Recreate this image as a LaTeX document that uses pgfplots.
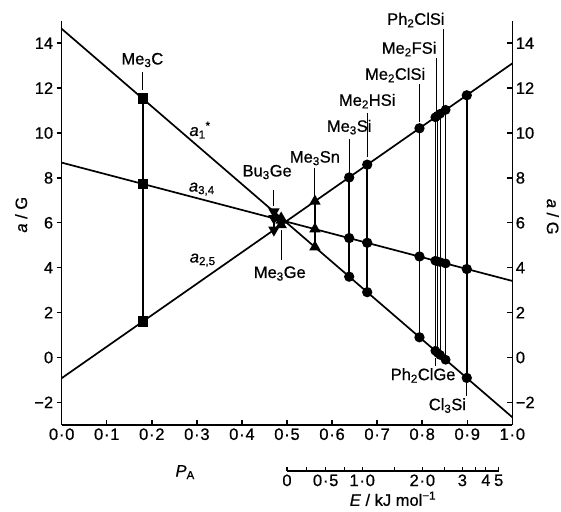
\documentclass[border=0pt]{standalone}
\usepackage{fontspec}
\setmainfont{Liberation Sans}[FakeBold=0.7]
\usepackage{pgfplots}
\pgfplotsset{compat=1.18}

\newcommand{\lbl}{\fontsize{16.5}{18}\selectfont}
\newcommand{\sub}[1]{\textsubscript{#1}}
\newcommand{\pd}{\kern0.8pt·\kern0.8pt}

\pgfplotsset{
  frame/.style={
    at={(0,0)}, anchor=south west, scale only axis,
    width=450.6pt, height=404.1pt,
    xmin=0, xmax=1, ymin=-3, ymax=15,
    axis line style={line width=1.6pt},
    every tick/.style={line width=1.4pt, black},
    major tick length=5pt,
    ticklabel style={font=\lbl},
    ytick={-2,0,2,4,6,8,10,12,14},
    yticklabels={−2,0,2,4,6,8,10,12,14},
    clip=false,
  },
  comp/.style={black, line width=1.6pt, mark=*, mark size=4.3pt, mark options={solid}},
}

\begin{document}
\begin{tikzpicture}
% left y axis and the data
\begin{axis}[frame,
  axis x line=none, axis y line*=left, tick align=outside,
]
% the three lines
\addplot[black, line width=1.7pt] coordinates {(0,14.64) (1,-2.66)};
\addplot[black, line width=1.7pt] coordinates {(0,8.68) (1,3.41)};
\addplot[black, line width=1.7pt] coordinates {(0,-0.92) (1,13.10)};

% compounds: (P_A, a1) (P_A, a34) (P_A, a25)
\addplot[comp, mark=square*, mark size=4.5pt] coordinates {(0.180,11.53) (0.180,7.73) (0.180,1.60)}; % Me3C
\addplot[comp, mark=triangle*, mark size=5pt, mark options={rotate=180}] coordinates {(0.471,6.49) (0.471,6.20) (0.471,5.68)}; % Bu3Ge
\addplot[comp, mark=triangle*, mark size=5pt] coordinates {(0.487,6.21) (0.487,6.11) (0.487,5.91)}; % Me3Ge
\addplot[comp, mark=triangle*, mark size=5pt] coordinates {(0.562,4.92) (0.562,5.72) (0.562,6.96)}; % Me3Sn
\addplot[comp] coordinates {(0.638,3.60) (0.638,5.32) (0.638,8.02)}; % Me3Si
\addplot[comp] coordinates {(0.678,2.91) (0.678,5.11) (0.678,8.59)}; % Me2HSi
\addplot[comp] coordinates {(0.794,0.90) (0.794,4.50) (0.794,10.21)}; % Me2ClSi
\addplot[comp, line width=1pt] coordinates {(0.829,0.30) (0.829,4.31) (0.829,10.70)}; % Ph2ClGe
\addplot[comp, line width=1pt] coordinates {(0.834,0.21) (0.834,4.28) (0.834,10.77)}; % Me2FSi
\addplot[comp, line width=1pt] coordinates {(0.840,0.11) (0.840,4.25) (0.840,10.86)};
\addplot[comp, line width=1.2pt] coordinates {(0.852,-0.10) (0.852,4.19) (0.852,11.03)}; % Ph2ClSi
\addplot[comp] coordinates {(0.899,-0.91) (0.899,3.94) (0.899,11.68)}; % Cl3Si

% line names
\node[font=\lbl] at (axis cs:0.307,10.13) {\textit{a}\sub{1}\textsuperscript{*}};
\node[font=\lbl] at (axis cs:0.311,7.50) {\textit{a}\sub{3,4}};
\node[font=\lbl] at (axis cs:0.313,4.34) {\textit{a}\sub{2,5}};

% compound labels with leaders
\begin{scope}[line width=0.9pt]
\node[font=\lbl] at (axis cs:0.179,13.25) {Me\sub{3}C};
\draw (axis cs:0.180,12.72) -- (axis cs:0.180,11.92);
\node[font=\lbl] at (axis cs:0.456,8.26) {Bu\sub{3}Ge};
\draw (axis cs:0.471,7.46) -- (axis cs:0.471,6.75);
\node[font=\lbl] at (axis cs:0.484,3.74) {Me\sub{3}Ge};
\draw (axis cs:0.487,5.68) -- (axis cs:0.487,4.34);
\node[font=\lbl] at (axis cs:0.562,8.88) {Me\sub{3}Sn};
\draw (axis cs:0.562,8.45) -- (axis cs:0.562,7.15);
\node[font=\lbl] at (axis cs:0.638,10.26) {Me\sub{3}Si};
\draw (axis cs:0.638,9.75) -- (axis cs:0.638,8.22);
\node[font=\lbl] at (axis cs:0.678,11.42) {Me\sub{2}HSi};
\draw (axis cs:0.678,10.90) -- (axis cs:0.678,8.93);
\node[font=\lbl] at (axis cs:0.740,12.58) {Me\sub{2}ClSi};
\draw (axis cs:0.794,12.18) -- (axis cs:0.794,10.49);
\node[font=\lbl] at (axis cs:0.771,13.74) {Me\sub{2}FSi};
\draw (axis cs:0.831,13.35) -- (axis cs:0.831,10.80);
\node[font=\lbl] at (axis cs:0.786,15.03) {Ph\sub{2}ClSi};
\draw (axis cs:0.847,14.64) -- (axis cs:0.847,11.00);
\node[font=\lbl] at (axis cs:0.802,-0.80) {Ph\sub{2}ClGe};
\draw (axis cs:0.829,-0.02) -- (axis cs:0.829,-0.38);
\node[font=\lbl] at (axis cs:0.856,-2.14) {Cl\sub{3}Si};
\draw (axis cs:0.899,-1.09) -- (axis cs:0.899,-1.72);
\end{scope}

% axis titles
\node[font=\lbl, rotate=90] at (axis description cs:-0.090,0.52) {\textit{a} / G};
\node[font=\lbl, rotate=-90] at (axis description cs:1.090,0.515) {\textit{a} / G};
\node[font=\lbl] at (axis description cs:0.274,-0.117) {\textit{P}\sub{A}};
\node[font=\lbl] at (axis description cs:0.735,-0.183) {\textit{E} / kJ mol\textsuperscript{−1}};
\end{axis}

% bottom x axis and right y axis
\begin{axis}[frame,
  axis x line*=bottom, axis y line*=right, tick align=inside,
  xtick={0,0.1,...,1.0},
  xticklabels={0\pd0,0\pd1,0\pd2,0\pd3,0\pd4,0\pd5,0\pd6,0\pd7,0\pd8,0\pd9,1\pd0},
]
\end{axis}

% energy scale: P_A = 1/(1+exp(-E/1.44))
\begin{axis}[
  at={(225.3pt,-46.15pt)}, anchor=south west, scale only axis,
  width=211.7pt, height=10pt,
  xmin=0.5, xmax=0.9699, ymin=0, ymax=1,
  axis x line*=bottom, axis y line=none,
  axis line style={line width=1.4pt},
  every tick/.style={line width=1.2pt, black},
  tick align=inside, major tick length=4pt, minor tick length=4pt,
  xtick={0.5,0.5859,0.6669,0.8004,0.8893,0.9414,0.9699},
  xticklabels={0,0\pd5,1\pd0,2\pd0,3,4,5},
  minor xtick={0.5433,0.6274,0.7392,0.8502,0.9191},
  ticklabel style={font=\lbl},
]
\end{axis}

\pgfresetboundingbox
\path (-61.7pt,-86.15pt) rectangle (499.3pt,424.85pt);
\end{tikzpicture}
\end{document}
